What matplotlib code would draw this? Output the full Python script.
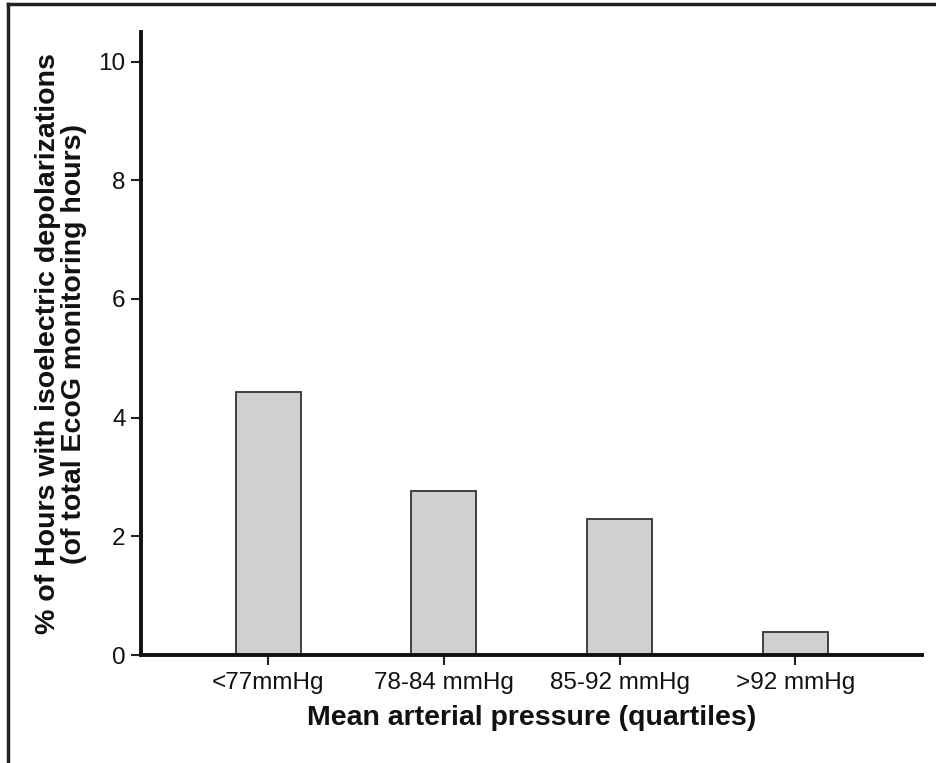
import numpy as np
import matplotlib
matplotlib.use("Agg")
import matplotlib.pyplot as plt

plt.rcParams['font.family'] = ['Liberation Sans', 'DejaVu Sans']

categories = ['<77mmHg', '78-84 mmHg', '85-92 mmHg', '>92 mmHg']
values = [4.43, 2.77, 2.29, 0.39]
yticks = [0, 2, 4, 6, 8, 10]

fig = plt.figure(figsize=(9.36, 7.63), dpi=100)
ax = fig.add_axes([0.1506, 0.1415, 0.8344, 0.8166])

x = np.arange(len(categories))
ax.bar(x, values, width=0.37, color='#d0d0d0', edgecolor='#333333', linewidth=1.3, zorder=2)

ax.set_xlim(-0.724, 3.72)
ax.set_ylim(0, 10.5)
ax.set_yticks(yticks)
ax.set_xticks(x)
ax.set_xticklabels(categories)

for s in ['top', 'right']:
    ax.spines[s].set_visible(False)
for s in ['left', 'bottom']:
    ax.spines[s].set_linewidth(2.8)
    ax.spines[s].set_color('#111111')

ax.tick_params(axis='both', direction='out', length=7, width=1.5, color='#222222',
               labelsize=17.5, labelcolor='#111111', pad=4)
ax.tick_params(axis='x', pad=5)
for lab in ax.get_xticklabels() + ax.get_yticklabels():
    lab.set_fontweight('medium')

ax.set_xlabel('Mean arterial pressure (quartiles)', fontsize=20.5, fontweight='bold',
              color='#111111', labelpad=8)
ax.set_ylabel('% of Hours with isoelectric depolarizations\n(of total EcoG monitoring hours)',
              fontsize=20.5, fontweight='bold', color='#111111', labelpad=8, linespacing=1.0)

# frame lines of the cropped figure (top and left)
fig.add_artist(plt.Line2D([0.009, 0.009], [0, 0.995], transform=fig.transFigure,
                          color='#222222', linewidth=2.5))
fig.add_artist(plt.Line2D([0.009, 1.0], [0.995, 0.995], transform=fig.transFigure,
                          color='#222222', linewidth=2.5))

fig.savefig('out.png', dpi=100)
